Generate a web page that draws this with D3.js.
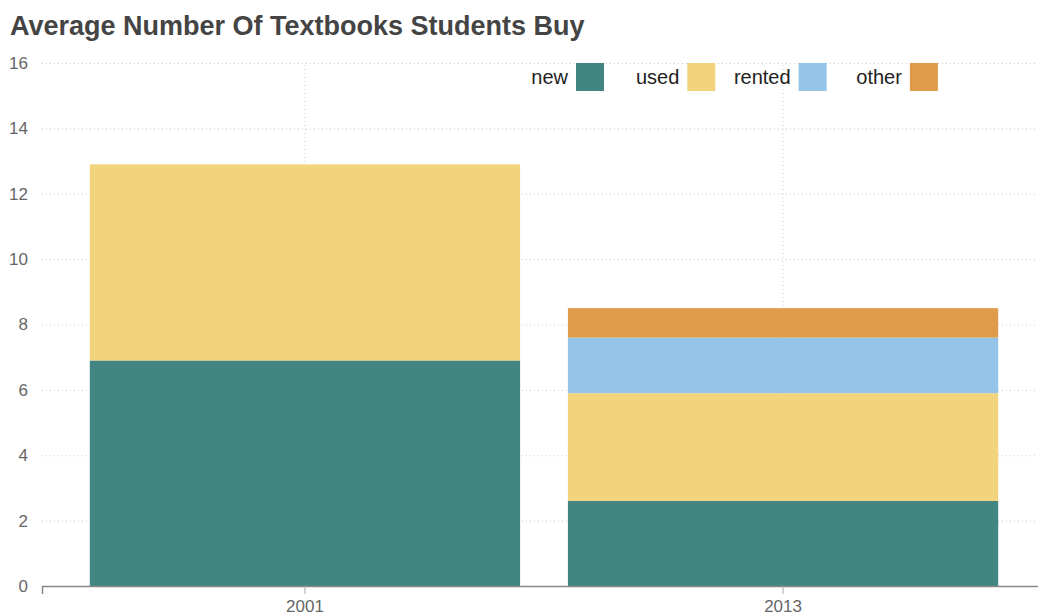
<!DOCTYPE html>
<html>
<head>
<meta charset="utf-8">
<script src="https://cdn.jsdelivr.net/npm/d3@7"></script>
<style>
  body { margin: 0; background: #fff; font-family: "Liberation Sans", Arial, sans-serif; }
  .grid line { stroke: #c8c8c8; stroke-dasharray: 1,3; }
  .tick text { fill: #666; font-size: 17px; }
</style>
</head>
<body>
<div id="chart"></div>
<script>
// Data
const years = ['2001', '2013']
const kinds = ['new', 'used', 'rented', 'other']
const newBooks = [6.9, 2.6]
const usedBooks = [6.0, 3.3]
const rentedBooks = [0, 1.7]
const otherBooks = [0, 0.9]
const yTicks = [0, 2, 4, 6, 8, 10, 12, 14, 16]
const colors = ['#428582', '#f2d47e', '#94c5e8', '#df9a4a']

const width = 1038,
  height = 616,
  marginLeft = 42,
  marginTop = 63,
  bottom = 586

let svg = d3.select('#chart')
  .append('svg')
  .attr('width', width)
  .attr('height', height)

// build rows for the stack
let rows = years.map((y, i) => ({
  year: y, new: newBooks[i], used: usedBooks[i], rented: rentedBooks[i], other: otherBooks[i]
}))
let stacked = d3.stack().keys(kinds)(rows)

const xScale = d3.scaleBand()
  .domain(years)
  .range([marginLeft, 1046])
  .paddingInner(0.1)
  .paddingOuter(0.1)

const yScale = d3.scaleLinear()
  .domain([0, 16])
  .range([bottom, marginTop])

// title
svg.append('text')
  .attr('x', 10)
  .attr('y', 35)
  .attr('font-size', 27)
  .attr('font-weight', 'bold')
  .attr('fill', '#444')
  .text('Average Number Of Textbooks Students Buy')

// horizontal grid
svg.append('g')
  .attr('class', 'grid')
  .attr('transform', `translate(${marginLeft},0)`)
  .call(d3.axisLeft(yScale).tickValues(yTicks).tickSize(-(width - marginLeft)).tickFormat(''))
  .call(g => g.select('.domain').remove())

// vertical grid
svg.append('g')
  .attr('class', 'grid')
  .attr('transform', `translate(0,${bottom})`)
  .call(d3.axisBottom(xScale).tickSize(-(bottom - marginTop)).tickFormat(''))
  .call(g => g.select('.domain').remove())

// y labels
svg.append('g')
  .attr('transform', `translate(${marginLeft},0)`)
  .call(d3.axisLeft(yScale).tickValues(yTicks).tickSize(0).tickPadding(14))
  .call(g => g.select('.domain').remove())

// bars
svg.selectAll('g.layer')
  .data(stacked)
  .enter()
  .append('g')
  .attr('class', 'layer')
  .attr('fill', (d, i) => colors[i])
  .selectAll('rect')
  .data(d => d)
  .enter()
  .append('rect')
  .attr('x', d => xScale(d.data.year))
  .attr('y', d => yScale(d[1]))
  .attr('width', xScale.bandwidth())
  .attr('height', d => yScale(d[0]) - yScale(d[1]))

// x axis
let xAxis = svg.append('g')
  .attr('transform', `translate(0,${bottom})`)
  .call(d3.axisBottom(xScale).tickSize(8).tickPadding(6).tickSizeOuter(8))
xAxis.select('.domain').attr('stroke', '#888').attr('stroke-width', 1.5)
xAxis.selectAll('.tick line').attr('stroke', '#aaa')

// legend
let legend = svg.append('g')
  .selectAll('g')
  .data(kinds)
  .enter()
  .append('g')
  .attr('transform', (d, i) => `translate(${576 + i * 111.3},63)`)

legend.append('rect')
  .attr('width', 28)
  .attr('height', 28)
  .attr('fill', (d, i) => colors[i])

legend.append('text')
  .attr('x', -8)
  .attr('y', 21)
  .attr('text-anchor', 'end')
  .attr('font-size', 20)
  .attr('fill', '#222')
  .text(d => d)
</script>
</body>
</html>
